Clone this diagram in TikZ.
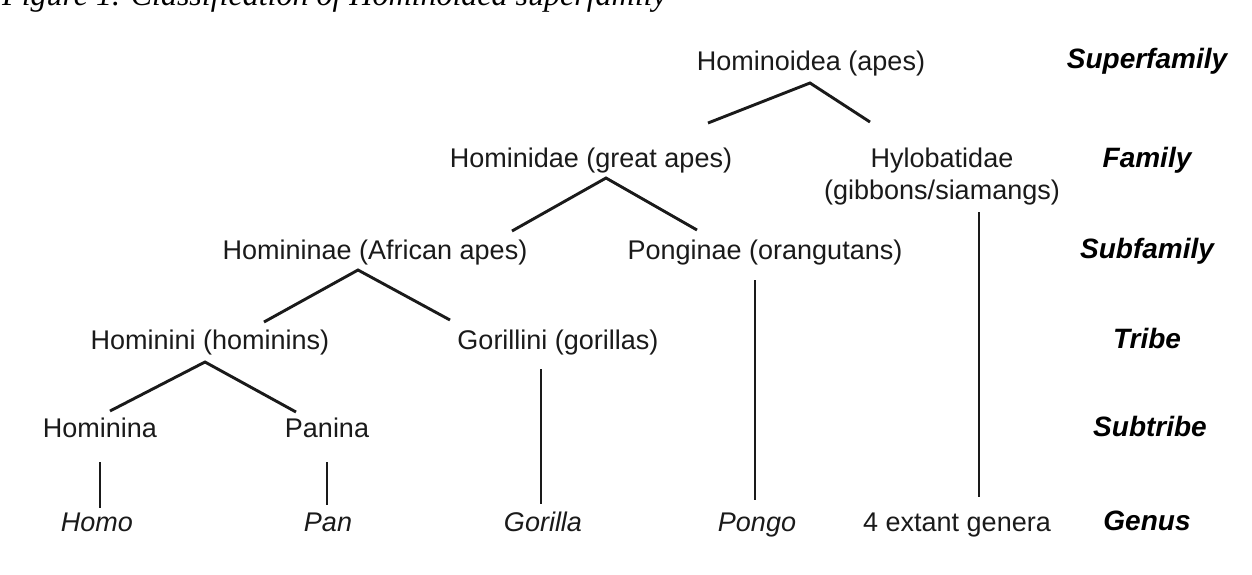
\documentclass[tikz,border=0pt]{standalone}
\usepackage{fontspec}
\setmainfont{Liberation Sans}
\newfontfamily\capfont{Liberation Serif}
\usetikzlibrary{calc}
\definecolor{ink}{HTML}{1A1A1A}
\tikzset{
  taxon/.style={anchor=base, inner sep=0pt, text=ink, font=\fontsize{27}{32}\selectfont},
  genus/.style={taxon, font=\fontsize{27}{32}\selectfont\itshape},
  rank/.style={anchor=base, inner sep=0pt, text=black, font=\fontsize{28}{33}\selectfont\bfseries\itshape},
  branch/.style={draw=ink, line width=2.9pt}
}
\begin{document}
\begin{tikzpicture}[x=1pt, y=-1pt]
\useasboundingbox (0,0) rectangle (1252,574);
\fill[white] (0,0) rectangle (1252,574);
% caption (cut off at top, as in the reference)
\node[anchor=base west, inner sep=0pt, font=\fontsize{32}{36}\selectfont\capfont\itshape] (cap) at (2,5) {Figure 1. Classification of Hominoidea superfamily};
% taxa
\node[taxon] (hoid) at (811,70) {Hominoidea (apes)};
\node[taxon] (hidae) at (591,167) {Hominidae (great apes)};
\node[taxon] (hylo) at (942,167) {Hylobatidae};
\node[taxon] (hylob) at (942,199) {(gibbons/siamangs)};
\node[taxon] (hinae) at (375,259) {Homininae (African apes)};
\node[taxon] (pong) at (765,259) {Ponginae (orangutans)};
\node[taxon] (hini) at (210,349) {Hominini (hominins)};
\node[taxon] (gori) at (558,349) {Gorillini (gorillas)};
\node[taxon] (hina) at (100,437) {Hominina};
\node[taxon] (pana) at (327,437) {Panina};
\node[genus] (homo) at (97,531) {Homo};
\node[genus] (pan) at (328,531) {Pan};
\node[genus] (gorilla) at (543,531) {Gorilla};
\node[genus] (pongo) at (757,531) {Pongo};
\node[taxon] (genera) at (957,531) {4 extant genera};
% ranks
\node[rank] (r1) at (1147,68) {Superfamily};
\node[rank] (r2) at (1147,167) {Family};
\node[rank] (r3) at (1147,258) {Subfamily};
\node[rank] (r4) at (1147,348) {Tribe};
\node[rank] (r5) at (1150,436) {Subtribe};
\node[rank] (r6) at (1147,530) {Genus};
% branches
\draw[branch] ([shift={(117,-44)}]hidae.base) -- ([shift={(-1,13)}]hoid.base) -- ([shift={(-72,-45)}]hylo.base);
\draw[branch] ([shift={(137,-28)}]hinae.base) -- ([shift={(15,11)}]hidae.base) -- ([shift={(-68,-29)}]pong.base);
\draw[branch] ([shift={(54,-27)}]hini.base) -- ([shift={(-17,11)}]hinae.base) -- ([shift={(-108,-29)}]gori.base);
\draw[branch] ([shift={(10,-26)}]hina.base) -- ([shift={(-5,13)}]hini.base) -- ([shift={(-31,-25)}]pana.base);
\draw[branch] ([shift={(0,25)}]hina.base) -- ([shift={(3,-23)}]homo.base);
\draw[branch] ([shift={(0,25)}]pana.base) -- ([shift={(-1,-26)}]pan.base);
\draw[branch] ([shift={(-17,20)}]gori.base) -- ([shift={(-2,-27)}]gorilla.base);
\draw[branch] ([shift={(-10,21)}]pong.base) -- ([shift={(-2,-31)}]pongo.base);
\draw[branch] ([shift={(37,13)}]hylob.base) -- ([shift={(22,-34)}]genera.base);
\end{tikzpicture}
\end{document}
